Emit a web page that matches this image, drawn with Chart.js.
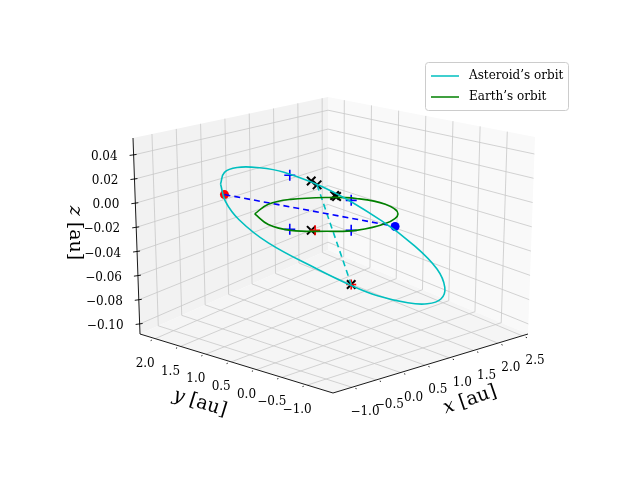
<!DOCTYPE html>
<html><head><meta charset="utf-8">
<script src="https://cdn.jsdelivr.net/npm/chart.js@4"></script>
<style>html,body{margin:0;padding:0;background:#fff}#c{display:block}</style>
</head><body>
<div style="width:640px;height:480px"><canvas id="c" width="640" height="480"></canvas></div>
<script>
// Axis tick labels
const xTicks = [-1.0,-0.5,0.0,0.5,1.0,1.5,2.0,2.5];
const yTicks = [-1.0,-0.5,0.0,0.5,1.0,1.5,2.0];
const zTicks = [-0.10,-0.08,-0.06,-0.04,-0.02,0.00,0.02,0.04];
const xLabels = ["−1.0","−0.5","0.0","0.5","1.0","1.5","2.0","2.5"];
const yLabels = ["−1.0","−0.5","0.0","0.5","1.0","1.5","2.0"];
const zLabels = ["−0.10","−0.08","−0.06","−0.04","−0.02","0.00","0.02","0.04"];
// Projected (screen) positions of the series
const asteroidOrbitX = [218,222,235,255,283,333,383,417,440,448,444,430,410,380,352,317,267,237,223,218];
const asteroidOrbitY = [182,170,165,165,170,190,220,246,270,289,301,306,305,298,287,270,243,219,200,182];
const earthOrbitX = [253,267,290,327,357,387,400,387,357,327,290,267,253];
const earthOrbitY = [213,203,198,196,197,203,213,223,230,231,230,224,213];
const chordX = [222,397]; const chordY = [193,226];
const nodeLineX = [317,352]; const nodeLineY = [183,286];
const redDotX = [222]; const redDotY = [193];
const blueDotX = [397]; const blueDotY = [226];
const bluePlusX = [289,352,289,352]; const bluePlusY = [173,199,229,230];
const blackXX = [311,317,335,337,311,352]; const blackXY = [179,183,194,195,230,286];
const redPlusX = [315,352]; const redPlusY = [230,286];

const zip=(a,b)=>a.map((v,i)=>({x:v,y:b[i]}));
const xmin=-1.39,xmax=2.62,ymin=-1.51,ymax=2.30,zmin=-0.1083,zmax=0.054;
const C={"000":[333,393],"100":[528,334],"010":[140,334],"110":[328,250],
 "001":[336,158],"101":[535,137],"011":[133,138],"111":[328,97]};
function P(x,y,z){const u=(x-xmin)/(xmax-xmin),v=(y-ymin)/(ymax-ymin),w=(z-zmin)/(zmax-zmin);
 let r=[0,0];for(const a of[0,1])for(const b of[0,1])for(const c of[0,1]){
 const wt=(a?u:1-u)*(b?v:1-v)*(c?w:1-w);const p=C[""+a+b+c];r[0]+=wt*p[0];r[1]+=wt*p[1];}return r;}

const axes3d={id:'axes3d',beforeDatasetsDraw(ch){const g=ch.ctx;g.save();
 const poly=(pts,fill)=>{g.beginPath();pts.forEach((p,i)=>i?g.lineTo(p[0],p[1]):g.moveTo(p[0],p[1]));g.closePath();g.fillStyle=fill;g.fill();};
 poly([P(xmin,ymax,zmin),P(xmax,ymax,zmin),P(xmax,ymax,zmax),P(xmin,ymax,zmax)],'#f2f2f2');
 poly([P(xmax,ymin,zmin),P(xmax,ymax,zmin),P(xmax,ymax,zmax),P(xmax,ymin,zmax)],'#f9f9f9');
 poly([P(xmin,ymin,zmin),P(xmax,ymin,zmin),P(xmax,ymax,zmin),P(xmin,ymax,zmin)],'#f5f5f5');
 const line=(a,b,col,w)=>{g.beginPath();g.moveTo(a[0],a[1]);g.lineTo(b[0],b[1]);g.strokeStyle=col;g.lineWidth=w;g.stroke();};
 const gc='#c8c8c8';
 xTicks.forEach(x=>{line(P(x,ymax,zmin),P(x,ymax,zmax),gc,0.8);line(P(x,ymin,zmin),P(x,ymax,zmin),gc,0.8);});
 yTicks.forEach(y=>{line(P(xmax,y,zmin),P(xmax,y,zmax),gc,0.8);line(P(xmin,y,zmin),P(xmax,y,zmin),gc,0.8);});
 zTicks.forEach(z=>{line(P(xmin,ymax,z),P(xmax,ymax,z),gc,0.8);line(P(xmax,ymin,z),P(xmax,ymax,z),gc,0.8);});
 line(P(xmin,ymin,zmin),P(xmax,ymin,zmin),'#000',0.9);
 line(P(xmin,ymin,zmin),P(xmin,ymax,zmin),'#000',0.9);
 line(P(xmin,ymax,zmin),P(xmin,ymax,zmax),'#000',0.9);
 g.fillStyle='#000';g.font='12px "DejaVu Serif"';g.textAlign='center';g.textBaseline='middle';
 xTicks.forEach((x,i)=>{const p=P(x,ymin,zmin),q=P(x,ymin+0.06*(ymax-ymin),zmin);line([p[0]-(q[0]-p[0])*0.3,p[1]-(q[1]-p[1])*0.3],[p[0]+(p[0]-q[0])*0.4,p[1]+(p[1]-q[1])*0.4],'#000',0.9);g.fillText(xLabels[i],p[0]+13,p[1]+25);});
 yTicks.forEach((y,i)=>{const p=P(xmin,y,zmin),q=P(xmin+0.06*(xmax-xmin),y,zmin);line([p[0]-(q[0]-p[0])*0.3,p[1]-(q[1]-p[1])*0.3],[p[0]+(p[0]-q[0])*0.4,p[1]+(p[1]-q[1])*0.4],'#000',0.9);g.fillText(yLabels[i],p[0]-10,p[1]+25);});
 g.textAlign='right';
 zTicks.forEach((z,i)=>{const p=P(xmin,ymax,z);line([p[0]-4,p[1]+0.5],[p[0]+3,p[1]-0.5],'#000',0.9);g.fillText(zLabels[i],p[0]-16,p[1]+2);});
 const lbl=(cx,cy,rot,v)=>{g.save();g.translate(cx,cy);g.rotate(rot);g.textAlign='left';
  g.font='italic 19px "DejaVu Serif"';const w1=g.measureText(v+' ').width;g.font='19px "DejaVu Serif"';const w2=g.measureText('[au]').width;
  const s=-(w1+w2)/2;g.font='italic 19px "DejaVu Serif"';g.fillText(v,s,0);g.font='19px "DejaVu Serif"';g.fillText('[au]',s+w1,0);g.restore();};
 lbl(470,400,-0.33,'x');lbl(200,403,0.30,'y');lbl(75,233,Math.PI/2,'z');
 g.restore();},
 afterDraw(ch){const g=ch.ctx;g.save();g.fillStyle='rgba(255,255,255,0.85)';g.strokeStyle='#cccccc';g.lineWidth=1;
  g.beginPath();g.roundRect(425.5,62.5,143,48,3);g.fill();g.stroke();
  g.font='12px "DejaVu Serif"';g.textBaseline='middle';g.fillStyle='#000';
  g.lineWidth=1.5;g.strokeStyle='#00bfbf';g.beginPath();g.moveTo(431,76);g.lineTo(459,76);g.stroke();g.fillText("Asteroid’s orbit",469,76);
  g.strokeStyle='#008000';g.beginPath();g.moveTo(431,97);g.lineTo(459,97);g.stroke();g.fillText("Earth’s orbit",469,97);
  g.restore();}};

const ln=(d,col,dash,t)=>({data:d,showLine:true,borderColor:col,borderWidth:1.6,borderDash:dash||[],pointRadius:0,tension:t||0,fill:false});
const mk=(d,col,style,r,w)=>({data:d,showLine:false,pointStyle:style,pointRadius:r,borderColor:col,backgroundColor:col,pointBorderWidth:w});
new Chart(document.getElementById('c'),{type:'scatter',
 data:{datasets:[
  ln(zip(asteroidOrbitX,asteroidOrbitY),'#00bfbf',null,0.4),
  ln(zip(earthOrbitX,earthOrbitY),'#008000',null,0.4),
  ln(zip(chordX,chordY),'#0000ff',[6,4]),
  ln(zip(nodeLineX,nodeLineY),'#00bfbf',[6,4]),
  mk(zip(redPlusX,redPlusY),'#ff0000','cross',5,1.6),
  mk(zip(bluePlusX,bluePlusY),'#0000ff','cross',5.5,1.6),
  mk(zip(blackXX,blackXY),'#000000','crossRot',6,2),
  mk(zip(redDotX,redDotY),'#ff0000','circle',4.5,0),
  mk(zip(blueDotX,blueDotY),'#0000ff','circle',4.5,0)]},
 options:{responsive:false,animation:false,layout:{padding:0},
  plugins:{legend:{display:false},tooltip:{enabled:false}},
  scales:{x:{type:'linear',min:0,max:640,display:false},y:{type:'linear',min:0,max:480,reverse:true,display:false}}},
 plugins:[axes3d]});
</script></body></html>
